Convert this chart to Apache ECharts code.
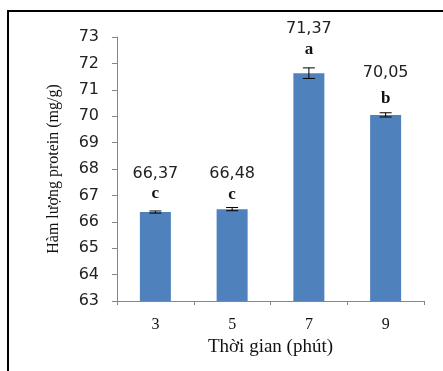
<!DOCTYPE html>
<html>
<head>
<meta charset="utf-8">
<script src="https://cdn.jsdelivr.net/npm/echarts@6/dist/echarts.min.js"></script>
<style>html,body{margin:0;padding:0;background:#fff}#c{width:443px;height:371px}</style>
</head>
<body>
<div id="c"></div>
<script>
const categories = ['3', '5', '7', '9'];
const barValues = [66.37, 66.48, 71.63, 70.05];
const errValues = [0.04, 0.06, 0.2, 0.08];
const valueLabels = ['66,37', '66,48', '71,37', '70,05'];
const letterLabels = ['c', 'c', 'a', 'b'];
const yTicks = [63, 64, 65, 66, 67, 68, 69, 70, 71, 72, 73];

// layout (pixel offsets of label block above bar top)
const labelDistance = [8, 5, 14, 6];
const wideGap = [false, false, false, true];

const chart = echarts.init(document.getElementById('c'), null, {renderer: 'canvas'});
const sans = '"DejaVu Sans", Verdana, sans-serif';
const serif = '"Liberation Serif", "Times New Roman", serif';

const barData = barValues.map((v, i) => ({
  value: v,
  label: {distance: labelDistance[i]}
}));

chart.setOption({
  animation: false,
  backgroundColor: '#fff',
  grid: {left: 117, right: 19, top: 37, bottom: 70, containLabel: false},
  graphic: [{
    type: 'rect',
    shape: {x: 8, y: 11, width: 460, height: 380},
    style: {fill: 'none', stroke: '#000', lineWidth: 2},
    silent: true
  }],
  xAxis: {
    type: 'category',
    data: categories,
    boundaryGap: true,
    name: 'Thời gian (phút)',
    nameLocation: 'middle',
    nameGap: 36,
    nameTextStyle: {fontFamily: serif, fontSize: 19, color: '#111'},
    axisLine: {lineStyle: {color: '#868686', width: 1}},
    axisTick: {show: true, alignWithLabel: false, length: 4, lineStyle: {color: '#868686'}},
    axisLabel: {margin: 16, fontFamily: serif, fontSize: 16, color: '#111'},
    splitLine: {show: false}
  },
  yAxis: {
    type: 'value',
    min: yTicks[0],
    max: yTicks[yTicks.length - 1],
    interval: 1,
    name: 'Hàm lượng protein (mg/g)',
    nameLocation: 'middle',
    nameRotate: 90,
    nameGap: 55,
    nameTextStyle: {fontFamily: serif, fontSize: 16, color: '#111'},
    axisLine: {show: true, lineStyle: {color: '#868686', width: 1}},
    axisTick: {show: true, length: 5, lineStyle: {color: '#868686'}},
    axisLabel: {margin: 18, fontFamily: sans, fontSize: 16, color: '#222'},
    splitLine: {show: false}
  },
  series: [{
    type: 'bar',
    data: barData,
    barWidth: 31,
    itemStyle: {color: '#4F81BD'},
    label: {
      show: true,
      position: 'top',
      formatter: p => '{' + (wideGap[p.dataIndex] ? 'vw' : 'v') + '|' + valueLabels[p.dataIndex] + '}\n{l|' + letterLabels[p.dataIndex] + '}',
      rich: {
        v: {fontFamily: sans, fontSize: 16, color: '#222', lineHeight: 20, align: 'center'},
        vw: {fontFamily: sans, fontSize: 16, color: '#222', lineHeight: 26, padding: [0, 0, 6, 0], align: 'center'},
        l: {fontFamily: serif, fontSize: 17, fontWeight: 'bold', color: '#111', lineHeight: 20, align: 'center'}
      }
    },
    z: 2
  }, {
    type: 'custom',
    data: barValues.map((v, i) => [i, v, errValues[i]]),
    renderItem: (params, api) => {
      const i = api.value(0), v = api.value(1), e = api.value(2);
      const top = api.coord([i, v + e]);
      const bot = api.coord([i, v - e]);
      const hw = 6;
      const style = {stroke: '#000', lineWidth: 1};
      return {
        type: 'group',
        children: [
          {type: 'line', shape: {x1: top[0], y1: top[1], x2: bot[0], y2: bot[1]}, style},
          {type: 'line', shape: {x1: top[0] - hw, y1: top[1], x2: top[0] + hw, y2: top[1]}, style},
          {type: 'line', shape: {x1: bot[0] - hw, y1: bot[1], x2: bot[0] + hw, y2: bot[1]}, style}
        ]
      };
    },
    z: 3
  }]
});
</script>
</body>
</html>
